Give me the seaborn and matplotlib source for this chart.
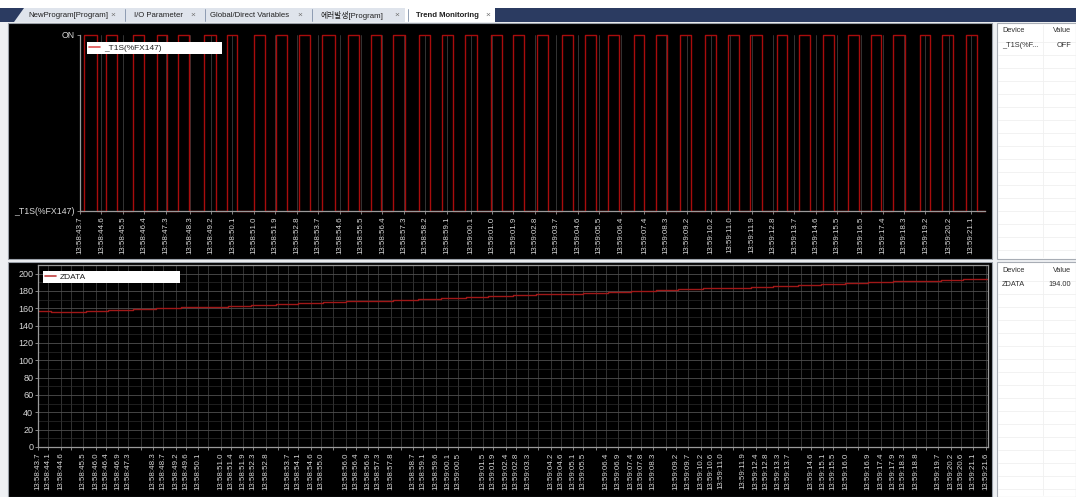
import matplotlib
matplotlib.use('Agg')
import matplotlib.pyplot as plt
import seaborn as sns
import pandas as pd
from matplotlib.patches import Rectangle, Polygon
from matplotlib.lines import Line2D

# ---------------- data ----------------
start_time = "13:58:43.7"

# _T1S(%FX147) square wave: rising / falling edge times (s after start)
t1s_rise = [0.17, 1.09, 2.23, 3.22, 4.10, 5.20, 6.17, 7.30, 8.24, 9.20, 10.15, 11.25,
            12.20, 13.15, 14.25, 15.20, 16.15, 17.25, 18.20, 19.20, 20.25, 21.20, 22.15,
            23.25, 24.20, 25.20, 26.25, 27.20, 28.15, 29.25, 30.20, 31.20, 32.25, 33.20,
            34.15, 35.25, 36.20, 37.20]
t1s_fall = [0.70, 1.54, 2.69, 3.64, 4.58, 5.71, 6.60, 7.77, 8.70, 9.65, 10.70, 11.70,
            12.65, 13.65, 14.70, 15.65, 16.65, 17.70, 18.65, 19.65, 20.70, 21.65, 22.65,
            23.70, 24.65, 25.65, 26.70, 27.65, 28.65, 29.70, 30.65, 31.65, 32.70, 33.65,
            34.65, 35.70, 36.65, 37.65]
t1s_end = 38.0

# ZDATA step samples
zdata_t = [0.0, 0.5, 1.9, 2.8, 3.8, 4.7, 5.7, 6.6, 7.6, 8.5, 9.5, 10.4, 11.4, 12.3, 13.3,
           14.2, 15.2, 16.1, 17.1, 18.0, 19.0, 19.9, 20.9, 21.8, 22.8, 23.7, 24.7, 25.6,
           26.6, 27.5, 28.5, 29.4, 30.4, 31.3, 32.3, 33.2, 34.2, 35.1, 36.1, 37.0, 38.0]
zdata_v = [157, 156, 157, 158, 159, 160, 161, 162, 163, 164, 165, 166, 167, 168, 169,
           170, 171, 172, 173, 174, 175, 176, 177, 178, 179, 180, 181, 182, 183, 184,
           185, 186, 187, 188, 189, 190, 191, 192, 193, 194, 194]

top_tick_labels = ["13:58:43.7", "13:58:44.6", "13:58:45.5", "13:58:46.4", "13:58:47.3",
                   "13:58:48.3", "13:58:49.2", "13:58:50.1", "13:58:51.0", "13:58:51.9",
                   "13:58:52.8", "13:58:53.7", "13:58:54.6", "13:58:55.5", "13:58:56.4",
                   "13:58:57.3", "13:58:58.2", "13:58:59.1", "13:59:00.1", "13:59:01.0",
                   "13:59:01.9", "13:59:02.8", "13:59:03.7", "13:59:04.6", "13:59:05.5",
                   "13:59:06.4", "13:59:07.4", "13:59:08.3", "13:59:09.2", "13:59:10.2",
                   "13:59:11.0", "13:59:11.9", "13:59:12.8", "13:59:13.7", "13:59:14.6",
                   "13:59:15.5", "13:59:16.5", "13:59:17.4", "13:59:18.3", "13:59:19.2",
                   "13:59:20.2", "13:59:21.1"]

bottom_tick_labels = ["13:58:43.7", "13:58:44.1", "13:58:44.6", "13:58:45.5", "13:58:46.0",
                      "13:58:46.4", "13:58:46.9", "13:58:47.3", "13:58:48.3", "13:58:48.7",
                      "13:58:49.2", "13:58:49.6", "13:58:50.1", "13:58:51.0", "13:58:51.4",
                      "13:58:51.9", "13:58:52.3", "13:58:52.8", "13:58:53.7", "13:58:54.1",
                      "13:58:54.6", "13:58:55.0", "13:58:56.0", "13:58:56.4", "13:58:56.9",
                      "13:58:57.3", "13:58:57.8", "13:58:58.7", "13:58:59.1", "13:58:59.6",
                      "13:59:00.1", "13:59:00.5", "13:59:01.5", "13:59:01.9", "13:59:02.4",
                      "13:59:02.8", "13:59:03.3", "13:59:04.2", "13:59:04.6", "13:59:05.1",
                      "13:59:05.5", "13:59:06.4", "13:59:06.9", "13:59:07.4", "13:59:07.8",
                      "13:59:08.3", "13:59:09.2", "13:59:09.7", "13:59:10.2", "13:59:10.6",
                      "13:59:11.0", "13:59:11.9", "13:59:12.4", "13:59:12.8", "13:59:13.3",
                      "13:59:13.7", "13:59:14.6", "13:59:15.1", "13:59:15.5", "13:59:16.0",
                      "13:59:16.9", "13:59:17.4", "13:59:17.9", "13:59:18.3", "13:59:18.8",
                      "13:59:19.7", "13:59:20.2", "13:59:20.6", "13:59:21.1", "13:59:21.6"]
bottom_gap_ticks = ["13:58:45.0", "13:58:47.8", "13:58:50.5", "13:58:53.3", "13:58:55.5",
                    "13:58:58.2", "13:59:01.0", "13:59:03.7", "13:59:06.0", "13:59:08.8",
                    "13:59:11.5", "13:59:14.2", "13:59:16.5", "13:59:19.2"]

zdata_yticks = [0, 20, 40, 60, 80, 100, 120, 140, 160, 180, 200]

tabs = ["NewProgram[Program]", "I/O Parameter", "Global/Direct Variables",
        "에러발생[Program]", "Trend Monitoring"]
panel1_rows = [("Device", "Value"), ("_T1S(%F...", "OFF")]
panel2_rows = [("Device", "Value"), ("ZDATA", "194.00")]
series1_name = "_T1S(%FX147)"
series2_name = "ZDATA"


def secs(s):
    h, m, sec = s.split(":")
    return int(h) * 3600 + int(m) * 60 + float(sec)


T0 = secs(start_time)

# build square-wave table from edges
sq_t, sq_v = [0.0], [0]
for r, f in zip(t1s_rise, t1s_fall):
    sq_t += [r, f]
    sq_v += [1, 0]
sq_t.append(t1s_end)
sq_v.append(0)
df1 = pd.DataFrame({"t": sq_t, "v": sq_v})
df2 = pd.DataFrame({"t": zdata_t, "v": zdata_v})

# ---------------- figure ----------------
sns.set_theme(style="dark")
plt.rcParams['font.family'] = ['Liberation Sans', 'Noto Sans CJK KR', 'DejaVu Sans']

W, H = 1076, 497
fig = plt.figure(figsize=(W / 100, H / 100), dpi=100, facecolor='#eef0f3')
BG_Z = -10


def fx(px):
    return px / W


def fy(py):
    return 1 - py / H


def rect(x0, y0, x1, y1, **kw):
    fig.add_artist(Rectangle((fx(x0), fy(y1)), (x1 - x0) / W, (y1 - y0) / H,
                             transform=fig.transFigure, zorder=BG_Z, **kw))


def fline(xs, ys, **kw):
    fig.add_artist(Line2D([fx(v) for v in xs], [fy(v) for v in ys],
                          transform=fig.transFigure, zorder=BG_Z + 1, **kw))


def ftext(x, y, s, **kw):
    fig.text(fx(x), fy(y), s, **kw)


# tab bar
rect(0, 0, W, 8, facecolor='white', edgecolor='none')
rect(0, 8, W, 22, facecolor='#dfe4ec', edgecolor='none')
rect(495, 8, W, 22, facecolor='#2b3b61', edgecolor='none')
fig.add_artist(Polygon([(fx(0), fy(8)), (fx(24), fy(8)), (fx(14), fy(22)), (fx(0), fy(22))],
                       closed=True, transform=fig.transFigure, facecolor='#2b3b61',
                       edgecolor='none', zorder=BG_Z))
rect(405, 8, 495, 22, facecolor='white', edgecolor='none')
tab_x = [68, 158, 250, 352, 447]
close_x = [113, 193, 300, 397, 488]
for i, (name, tx, cx) in enumerate(zip(tabs, tab_x, close_x)):
    ftext(tx, 15.5, name, ha='center', va='center', fontsize=5.6, color='#202020',
          fontweight='bold' if i == 4 else 'normal')
    ftext(cx, 15.5, "×", ha='center', va='center', fontsize=6, color='#707070')
for sx in [125, 205, 312, 408]:
    fline([sx, sx], [9, 21], color='#8090a8', lw=0.6)

# black panels
rect(8, 23, 992, 259, facecolor='black', edgecolor='#9aa0a8', lw=0.8)
rect(8, 262, 992, 497, facecolor='black', edgecolor='#9aa0a8', lw=0.8)

# side panels
for (y0, y1, rows) in [(23, 259, panel1_rows), (262, 497, panel2_rows)]:
    rect(997, y0, W, y1, facecolor='white', edgecolor='#a8adb5', lw=0.8)
    for k in range(1, 18):
        yy = y0 + 6 + 13 * k
        if yy < y1 - 2:
            fline([998, W], [yy, yy], color='#f0f0f0', lw=0.6)
    fline([1043, 1043], [y0 + 2, y1 - 2], color='#f0f0f0', lw=0.6)
    for r, (a, b) in enumerate(rows):
        yy = y0 + 8 + 15 * r
        ftext(1002, yy, a, ha='left', va='center', fontsize=5.3, color='#303030')
        ftext(1071, yy, b, ha='right', va='center', fontsize=5.3, color='#303030')

label_color = '#d8d8d8'
spine_color = '#9a9a9a'
red = '#a80c0c'


def styled_legend(ax, color, name, anchor):
    handle = Line2D([], [], color=color, lw=1.2)
    leg = ax.legend([handle], [name], loc='upper left', bbox_to_anchor=anchor,
                    mode='expand', borderaxespad=0, fontsize=6, handlelength=1.3,
                    handletextpad=0.5, borderpad=0.25, frameon=True, fancybox=False,
                    framealpha=1)
    fr = leg.get_frame()
    fr.set_facecolor('white')
    fr.set_edgecolor('white')
    fr.set_linewidth(0)
    for t in leg.get_texts():
        t.set_color('#202020')
    return leg


# ---------------- top chart ----------------
ax1 = fig.add_axes([fx(80), fy(211), (985 - 80) / W, (211 - 35) / H])
ax1.set_facecolor('black')
sns.lineplot(data=df1, x="t", y="v", ax=ax1, drawstyle='steps-post', estimator=None,
             sort=False, color=red, lw=1.0)
for ln in ax1.lines:
    ln.set_clip_on(False)
ax1.set_xlim(0, 38.0)
ax1.set_ylim(0, 1)
ax1.set_yticks([0, 1])
ax1.set_yticklabels([series1_name, "ON"])
tt = [secs(s) - T0 for s in top_tick_labels]
ax1.set_xticks(tt)
ax1.set_xticklabels(top_tick_labels, rotation=90)
ax1.tick_params(axis='x', labelsize=5.7, colors=label_color, length=2.5, width=0.6,
                pad=1.5, bottom=True, color=spine_color)
ax1.tick_params(axis='y', labelsize=6.3, colors=label_color, length=2.5, width=0.6,
                pad=1, left=True, color=spine_color)
ax1.grid(axis='x', color='#3c3c3c', lw=0.6)
ax1.grid(axis='y', visible=False)
for side in ['top', 'right']:
    ax1.spines[side].set_visible(False)
for side in ['left', 'bottom']:
    ax1.spines[side].set_color(spine_color)
    ax1.spines[side].set_linewidth(0.9)
ax1.set_xlabel("")
ax1.set_ylabel("")
styled_legend(ax1, '#e05050', series1_name, (0.0077, 0.0, 0.149, 0.96))

# ---------------- bottom chart ----------------
ax2 = fig.add_axes([fx(38), fy(447), (988 - 38) / W, (447 - 265) / H])
ax2.set_facecolor('black')
sns.lineplot(data=df2, x="t", y="v", ax=ax2, drawstyle='steps-post', estimator=None,
             sort=False, color='#a01818', lw=1.0)
ax2.set_xlim(0, 38.0)
ax2.set_ylim(0, 210)
ax2.set_yticks(zdata_yticks)
ax2.set_yticks([v + 10 for v in zdata_yticks[:-1]] + [210], minor=True)
bt_lab = [secs(s) - T0 for s in bottom_tick_labels]
bt_gap = [secs(s) - T0 for s in bottom_gap_ticks]
ticks_all = bt_lab + bt_gap
labels_all = bottom_tick_labels + [""] * len(bt_gap)
ax2.set_xticks(ticks_all)
ax2.set_xticklabels(labels_all, rotation=90)
ax2.tick_params(axis='x', labelsize=5.7, colors=label_color, length=2.5, width=0.6,
                pad=1.5, bottom=True, color=spine_color)
ax2.tick_params(axis='y', which='major', labelsize=6.5, colors=label_color, length=2.5,
                width=0.6, pad=1, left=True, color=spine_color)
ax2.tick_params(axis='y', which='minor', left=False)
ax2.grid(axis='x', color='#3a3a3a', lw=0.6)
ax2.grid(axis='y', which='major', color='#505050', lw=0.6)
ax2.grid(axis='y', which='minor', color='#2c2c2c', lw=0.5)
for side in ax2.spines:
    ax2.spines[side].set_color(spine_color)
    ax2.spines[side].set_linewidth(0.9)
ax2.set_xlabel("")
ax2.set_ylabel("")
styled_legend(ax2, '#c04040', series2_name, (0.0053, 0.0, 0.144, 0.967))

fig.savefig("out.png", dpi=100, facecolor=fig.get_facecolor())
